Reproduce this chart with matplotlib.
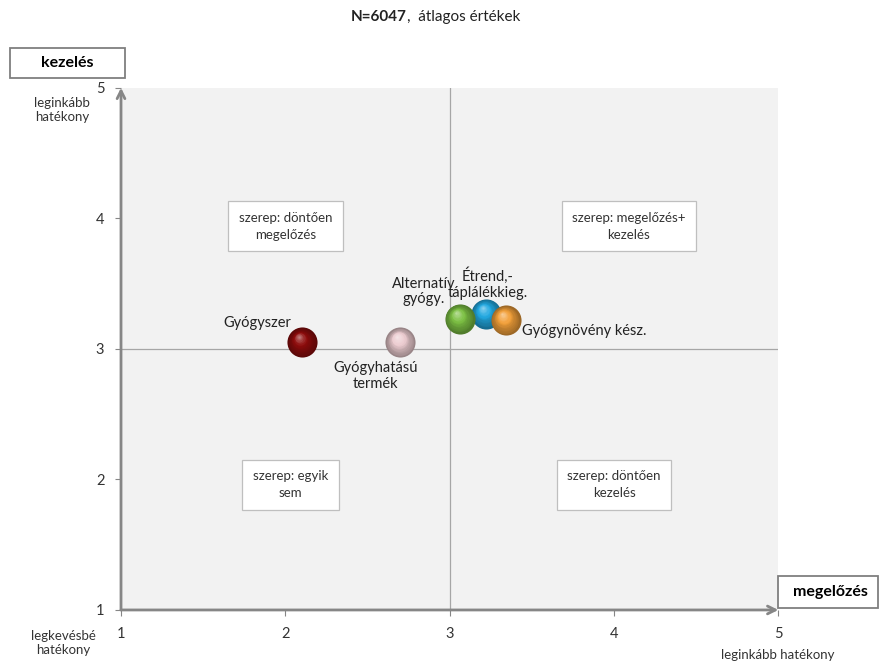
import matplotlib
matplotlib.use("Agg")
import matplotlib.pyplot as plt
import matplotlib.colors as mcolors
from matplotlib.patches import Rectangle
from matplotlib.transforms import offset_copy
import numpy as np

plt.rcParams['font.family'] = ['Lato', 'DejaVu Sans']

# data: average effectiveness ratings (x = megelőzés, y = kezelés)
names = ["Gyógyszer", "Gyógyhatású termék", "Étrend,-táplálékkieg.",
         "Alternatív gyógy.", "Gyógynövény kész."]
prevention = [2.10, 2.70, 3.22, 3.06, 3.34]
treatment = [3.05, 3.05, 3.27, 3.23, 3.22]
colors = ["#8e0c0c", "#ecccd0", "#22a8e0", "#7cc043", "#f2a03a"]
labels = ["Gyógyszer", "Gyógyhatású\ntermék", "Étrend,-\ntáplálékkieg.",
          "Alternatív\ngyógy.", "Gyógynövény kész."]
label_xy = [(1.83, 3.20), (2.55, 2.79), (3.23, 3.50), (2.84, 3.44), (3.44, 3.14)]
label_ha = ["center", "center", "center", "center", "left"]

quad_text = ["szerep: döntően\nmegelőzés", "szerep: megelőzés+\nkezelés",
             "szerep: egyik\nsem", "szerep: döntően\nkezelés"]
quad_xy = [(2.0, 3.94), (4.09, 3.94), (2.03, 1.96), (4.0, 1.96)]
ticks = [1, 2, 3, 4, 5]


def shade(c, k):
    rgb = np.array(mcolors.to_rgb(c))
    if k < 0:
        return tuple(rgb * (1 + k))
    return tuple(rgb + (1 - rgb) * k)


W, H = 880, 661
fig = plt.figure(figsize=(8.8, 6.61), dpi=100)
ax = fig.add_axes([0.1375, 0.0772, 0.747, 0.790])
ax.set_facecolor("#f2f2f2")
ax.set_xlim(1, 5)
ax.set_ylim(1, 5)

for s in ["top", "right", "left", "bottom"]:
    ax.spines[s].set_visible(False)

# axes with arrows
ax.annotate("", xy=(1.0, 0), xytext=(0, 0), xycoords="axes fraction",
            arrowprops=dict(arrowstyle="->", color="#868686", lw=2.0,
                            mutation_scale=14, shrinkA=0, shrinkB=0))
ax.annotate("", xy=(0, 1.0), xytext=(0, 0), xycoords="axes fraction",
            arrowprops=dict(arrowstyle="->", color="#868686", lw=2.0,
                            mutation_scale=14, shrinkA=0, shrinkB=0))

ax.axvline(3, color="#a6a6a6", lw=0.9, zorder=1)
ax.axhline(3, color="#a6a6a6", lw=0.9, zorder=1)

ax.set_xticks(ticks)
ax.set_yticks(ticks)
ax.tick_params(axis="both", length=4, width=0.8, color="#868686",
               labelsize=10.5, labelcolor="#333333", direction="out")
ax.tick_params(axis="x", pad=8)
ax.tick_params(axis="y", pad=8)

# quadrant boxes
for t, (qx, qy) in zip(quad_text, quad_xy):
    ax.text(qx, qy, t, ha="center", va="center", fontsize=9.5, color="#333333",
            linespacing=1.5,
            bbox=dict(boxstyle="square,pad=0.8", fc="white", ec="#bfbfbf", lw=0.9),
            zorder=2)

# shaded spheres
base = 470
layers = 14
for i, (x, y, c) in enumerate(zip(prevention, treatment, colors)):
    ax.scatter([x], [y], s=base, color=shade(c, -0.35), zorder=5 + i * 20,
               linewidths=0)
    for j in range(1, layers):
        f = 1 - j / layers
        tr = offset_copy(ax.transData, fig=fig, x=-(1 - f) * 2.5,
                         y=(1 - f) * 4.5, units="points")
        ax.scatter([x], [y], s=base * f ** 2 * 0.92, transform=tr,
                   color=shade(c, -0.3 + 0.85 * (1 - f) ** 1.6),
                   zorder=5 + i * 20 + j, linewidths=0)

for t, (lx, ly), ha in zip(labels, label_xy, label_ha):
    ax.text(lx, ly, t, ha=ha, va="center", fontsize=10.5, color="#222222",
            linespacing=1.15, zorder=200)

# title: bold part + normal part
fig.text(407 / W, 1 - 17 / H, "N=6047", ha="right", va="center",
         fontsize=11, fontweight="bold", color="#222222")
fig.text(407 / W, 1 - 17 / H, ",  átlagos értékek", ha="left", va="center",
         fontsize=11, color="#222222")

# outside boxes
fig.add_artist(Rectangle((10 / W, 1 - 78 / H), 115 / W, 30 / H,
                         transform=fig.transFigure, fc="white", ec="#7f7f7f", lw=1.3))
fig.text(67 / W, 1 - 63 / H, "kezelés", ha="center", va="center",
         fontsize=11.5, fontweight="bold")
fig.add_artist(Rectangle((778 / W, 1 - 608 / H), 100 / W, 32 / H,
                         transform=fig.transFigure, fc="white", ec="#7f7f7f", lw=1.3))
fig.text(830 / W, 1 - 592 / H, "megelőzés", ha="center", va="center",
         fontsize=11.5, fontweight="bold")

fig.text(62 / W, 1 - 110 / H, "leginkább\nhatékony", ha="center",
         va="center", fontsize=9.5, color="#333333")
fig.text(63 / W, 1 - 643 / H, "legkevésbé\nhatékony", ha="center",
         va="center", fontsize=9.5, color="#333333")
fig.text(778 / W, 1 - 655 / H, "leginkább hatékony", ha="center",
         va="center", fontsize=9.5, color="#333333")

fig.savefig("out.png", dpi=100)
